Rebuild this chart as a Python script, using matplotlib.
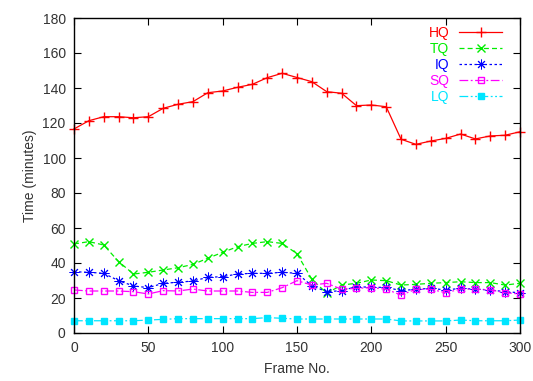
import matplotlib
matplotlib.use("Agg")
import matplotlib.pyplot as plt

frames = list(range(0, 301, 10))
hq = [116.6, 121.3, 123.6, 123.6, 123.0, 123.6, 128.4, 130.7, 132.2, 137.3, 138.3,
      140.4, 142.1, 145.9, 148.4, 146.0, 143.6, 137.9, 137.0, 129.9, 130.3, 129.3,
      110.7, 107.8, 109.7, 111.2, 113.7, 110.9, 112.6, 113.0, 115.0]
tq = [50.9, 52.2, 50.3, 40.8, 33.7, 34.7, 36.0, 37.3, 39.2, 42.7, 46.1, 49.3, 51.2,
      52.2, 51.2, 45.3, 30.7, 22.7, 27.4, 28.4, 30.3, 29.9, 27.4, 27.8, 28.4, 28.8,
      29.3, 28.8, 28.8, 27.4, 28.4]
iq = [35.0, 34.7, 34.1, 29.9, 26.9, 25.9, 28.4, 29.0, 29.7, 31.8, 32.2, 33.7, 34.1,
      34.1, 34.7, 34.1, 27.0, 23.6, 24.2, 26.5, 26.1, 26.1, 24.2, 25.0, 25.5, 24.6,
      25.5, 25.1, 24.6, 23.6, 23.0]
sq = [24.6, 24.0, 24.0, 24.0, 23.6, 22.3, 24.2, 24.0, 25.1, 24.0, 24.0, 24.0, 23.2,
      23.2, 25.9, 29.9, 27.4, 28.4, 25.0, 25.5, 25.9, 25.0, 21.7, 25.0, 25.0, 23.0,
      25.1, 25.1, 24.6, 23.0, 22.3]
lq = [7.0, 7.0, 7.0, 7.0, 7.0, 7.4, 7.8, 8.2, 8.2, 8.2, 8.2, 8.2, 8.2, 8.8, 8.4,
      8.0, 8.0, 8.0, 8.0, 8.0, 8.0, 8.0, 6.9, 6.9, 6.9, 6.9, 7.4, 7.0, 7.0, 7.0, 7.4]

labels = ["HQ", "TQ", "IQ", "SQ", "LQ"]
series = [hq, tq, iq, sq, lq]
colors = ["#ff0000", "#00ee00", "#0000ff", "#ff00ff", "#00e5ff"]
styles = ["-", (0, (4, 2.5)), (0, (2, 2)), (0, (7, 2, 1.5, 2)), (0, (7, 2, 1.5, 2, 1.5, 2))]
markers = ["+", "x", (8, 2, 0), "s", "s"]
fills = ["full", "full", "full", "none", "full"]
msizes = [7, 6, 7, 5, 5]
mews = [1.0, 1.0, 0.7, 1.0, 1.0]

plt.rcParams['font.family'] = ['Liberation Sans', 'DejaVu Sans']
fig = plt.figure(figsize=(5.33, 3.81), dpi=100)
ax = fig.add_axes([74/533, 48/381, (520-74)/533, (333-18)/381])

for y, lab, c, ls, m, f, ms, mew in zip(series, labels, colors, styles, markers, fills, msizes, mews):
    ax.plot(frames, y, color=c, linestyle=ls, marker=m, fillstyle=f, markersize=ms,
            linewidth=0.9, markeredgewidth=mew, label=lab, clip_on=False)

ax.set_xlim(0, 300)
ax.set_ylim(0, 180)
ax.set_xticks(range(0, 301, 50))
ax.set_yticks(range(0, 181, 20))
ax.tick_params(direction='in', length=5, top=True, right=True, labelsize=10,
               colors='black', labelcolor='#333333', pad=6)
for s in ax.spines.values():
    s.set_linewidth(1.0)
    s.set_color('black')
ax.set_xlabel("Frame No.", fontsize=10, color='#333333', labelpad=5)
ax.set_ylabel("Time (minutes)", fontsize=10, color='#333333', labelpad=4)

leg = ax.legend(loc='upper right', bbox_to_anchor=(0.982, 1.006), frameon=False,
                markerfirst=False, labelcolor='linecolor', fontsize=10,
                handlelength=3.1, labelspacing=0.15, borderaxespad=0.3,
                handletextpad=0.7)

fig.savefig("out.png", dpi=100)
